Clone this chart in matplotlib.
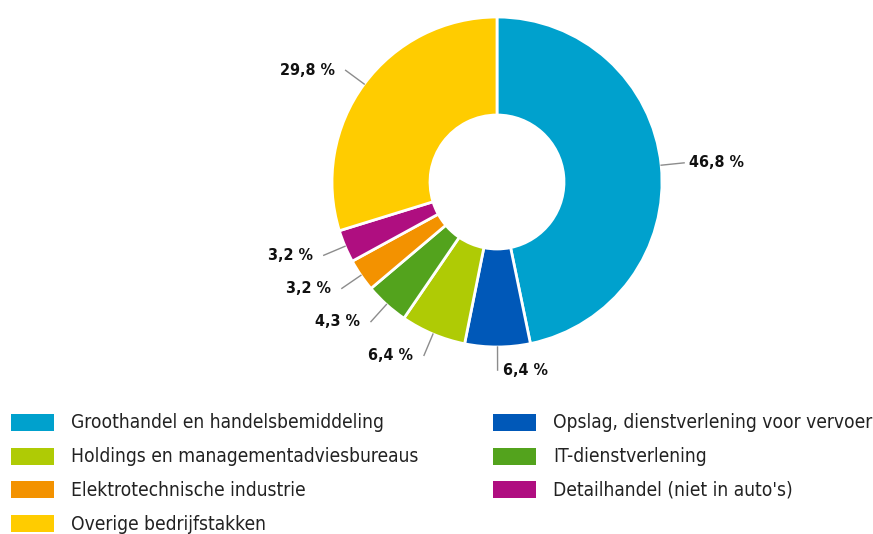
import numpy as np
import matplotlib.pyplot as plt
from matplotlib.patches import Rectangle

# sector shares (percent), clockwise from the top
sectors = ["Groothandel en handelsbemiddeling",
           "Opslag, dienstverlening voor vervoer",
           "Holdings en managementadviesbureaus",
           "IT-dienstverlening",
           "Elektrotechnische industrie",
           "Detailhandel (niet in auto's)",
           "Overige bedrijfstakken"]
shares = [46.8, 6.4, 6.4, 4.3, 3.2, 3.2, 29.8]
share_labels = ["46,8 %", "6,4 %", "6,4 %", "4,3 %", "3,2 %", "3,2 %", "29,8 %"]
colors = ["#00A1CD", "#0058B8", "#AFCB05", "#53A31D", "#F39200", "#AF0E80", "#FFCC00"]

W, H = 873, 534
CX, CY, R = 497, 182, 165  # donut centre / radius in pixels

fig = plt.figure(figsize=(W / 100, H / 100), dpi=100)
ax = fig.add_axes([0, 0, 1, 1])

ax.pie(shares, colors=colors, startangle=90, counterclock=False, radius=1,
       wedgeprops=dict(width=0.594, edgecolor="white", linewidth=2))
ax.set_xlim(-CX / R, (W - CX) / R)
ax.set_ylim((CY - H) / R, CY / R)
ax.set_aspect("auto")
ax.axis("off")

# leader lines and percentage labels
total = sum(shares)
cum = np.cumsum([0] + shares)
for i, lab in enumerate(share_labels):
    mid = np.deg2rad(90 - 360 * (cum[i] + shares[i] / 2) / total)
    c, s = np.cos(mid), np.sin(mid)
    ax.plot([c * 1.0, c * 1.14], [s * 1.0, s * 1.14], color="#8c8c8c", lw=1)
    right = c > -0.01
    dx = (5 if right else -11) / R
    ax.text(c * 1.14 + dx, s * 1.14, lab, ha="left" if right else "right",
            va="center", fontsize=11.5, fontweight="bold",
            fontstretch="condensed", family="DejaVu Sans", color="#111111")

# legend, two columns, filled row by row
for i, name in enumerate(sectors):
    col, row = i % 2, i // 2
    x0 = 11 + col * 482
    y0 = 414 + row * 33.7
    fig.add_artist(Rectangle((x0 / W, 1 - (y0 + 17) / H), 43 / W, 17 / H,
                             transform=fig.transFigure, color=colors[i], lw=0))
    fig.text((x0 + 60) / W, 1 - (y0 + 9) / H, name, ha="left", va="center",
             fontsize=13.8, fontstretch="condensed", family="DejaVu Sans", color="#222222")

fig.savefig("out.png", dpi=100)
